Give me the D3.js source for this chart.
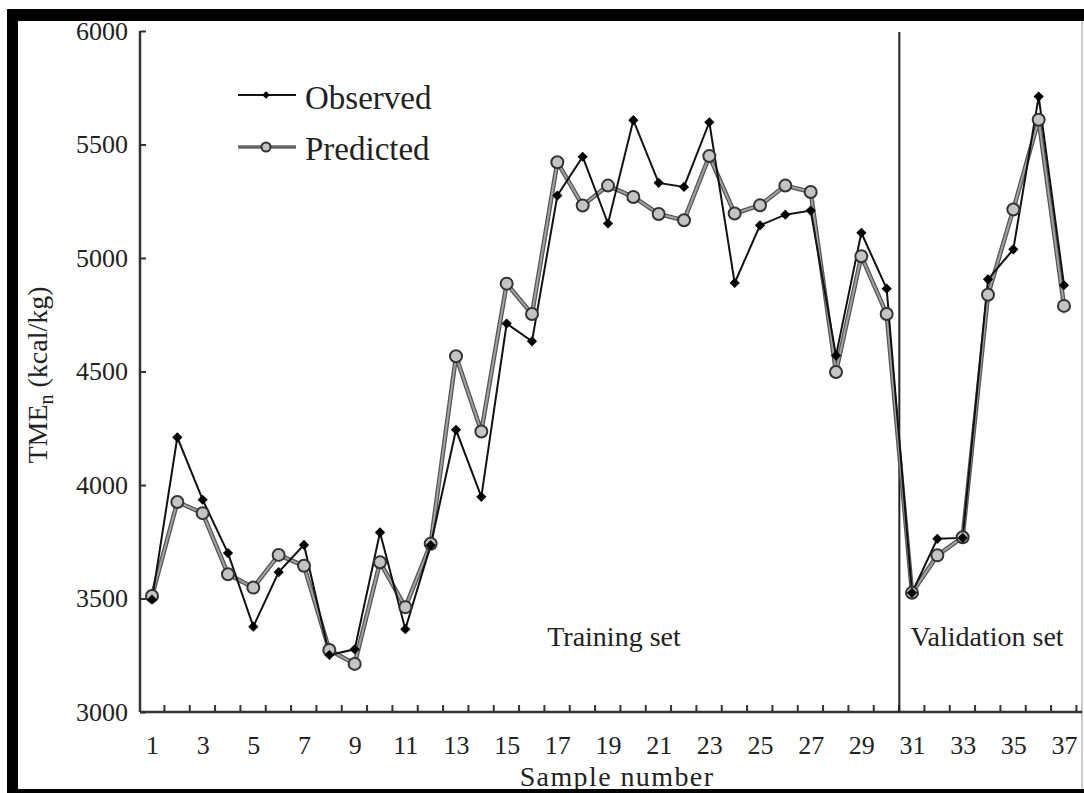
<!DOCTYPE html>
<html lang="en">
<head>
  <meta charset="UTF-8" />
  <title>TMEn observed vs predicted</title>
  <script src="https://d3js.org/d3.v7.min.js" charset="utf-8"></script>
  <style type="text/css">
  body {
    margin: 0;
    background: #fff;
  }
  svg {
    display: block;
    font-family: "Liberation Serif", "Times New Roman", serif;
  }
  .axis text {
    font-family: "Liberation Serif", "Times New Roman", serif;
    font-size: 26px;
    fill: #222;
  }
  .axis path {
    stroke: none;
  }
  .axis line {
    stroke: #333;
    stroke-width: 2;
  }
  </style>
</head>
<body>
<script type="text/javascript">

// values
const samples = [1, 2, 3, 4, 5, 6, 7, 8, 9, 10, 11, 12, 13, 14, 15, 16, 17, 18, 19,
  20, 21, 22, 23, 24, 25, 26, 27, 28, 29, 30, 31, 32, 33, 34, 35, 36, 37];

const observed = [3495, 4210, 3935, 3700, 3376, 3616, 3736, 3251, 3276, 3791, 3365, 3735,
  4243, 3948, 4711, 4633, 5275, 5446, 5152, 5607, 5331, 5313, 5598, 4890,
  5144, 5191, 5209, 4570, 5111, 4865,
  3525, 3763, 3767, 4906, 5038, 5711, 4880];

const predicted = [3511, 3925, 3876, 3607, 3548, 3692, 3644, 3273, 3212, 3660, 3462, 3741,
  4567, 4236, 4887, 4753, 5422, 5231, 5319, 5269, 5194, 5166, 5449, 5196,
  5232, 5319, 5291, 4498, 5008, 4753,
  3525, 3690, 3770, 4838, 5214, 5609, 4789];

const xLabels = [1, 3, 5, 7, 9, 11, 13, 15, 17, 19, 21, 23, 25, 27, 29, 31, 33, 35, 37];
const yTicks = [3000, 3500, 4000, 4500, 5000, 5500, 6000];
const splitAt = 30.5; // training | validation

const W = 1084, H = 793;
const plotLeft = 140, plotRight = 1082, plotBottom = 712, plotTop = 31;

const svg = d3.select("body").append("svg")
    .attr("width", W)
    .attr("height", H);

const x = d3.scaleLinear().domain([1, 37]).range([152, 1064]);
const y = d3.scaleLinear().domain([3000, 6000]).range([plotBottom, plotTop]);

// scanned frame
svg.append("rect").attr("x", 7).attr("y", 9).attr("width", W - 7).attr("height", 12).attr("fill", "#000");
svg.append("rect").attr("x", 7).attr("y", 9).attr("width", 11).attr("height", H - 9).attr("fill", "#000");
svg.append("line").attr("x1", plotRight).attr("x2", plotRight).attr("y1", 21).attr("y2", 789)
    .attr("stroke", "#999").attr("stroke-width", 1);

// axes
svg.append("g")
    .attr("class", "axis y")
    .attr("transform", `translate(${plotLeft},0)`)
    .call(d3.axisLeft(y).tickValues(yTicks).tickSizeInner(-6).tickSizeOuter(0).tickPadding(12)
      .tickFormat(d3.format("d")));

svg.append("g")
    .attr("class", "axis x")
    .attr("transform", `translate(0,${plotBottom})`)
    .call(d3.axisBottom(x).tickValues(xLabels).tickSize(0).tickPadding(24).tickFormat(d3.format("d")));

svg.append("g")
    .attr("class", "axis xticks")
    .attr("transform", `translate(0,${plotBottom})`)
    .call(d3.axisBottom(x).tickValues(samples.map(d => d + 0.47)).tickSizeInner(-7).tickSizeOuter(0).tickFormat(""));

svg.append("line")
    .attr("x1", plotLeft).attr("x2", plotRight)
    .attr("y1", y(3000)).attr("y2", y(3000))
    .attr("stroke", "#333").attr("stroke-width", 2.5);
svg.append("line")
    .attr("x1", plotLeft).attr("x2", plotLeft)
    .attr("y1", y(3000)).attr("y2", y(6000))
    .attr("stroke", "#333").attr("stroke-width", 2.5);

// separator between the sets
svg.append("line")
    .attr("x1", x(splitAt)).attr("x2", x(splitAt))
    .attr("y1", y(3000)).attr("y2", y(6000) + 1)
    .attr("stroke", "#222").attr("stroke-width", 2);

// axis titles
svg.append("text")
    .attr("x", 617).attr("y", 786)
    .attr("text-anchor", "middle")
    .attr("font-size", 28)
    .attr("letter-spacing", 1.4)
    .attr("fill", "#222")
    .text("Sample number");

const yTitle = svg.append("text")
    .attr("transform", "translate(47,375) rotate(-90)")
    .attr("text-anchor", "middle")
    .attr("font-size", 28)
    .attr("fill", "#222");
yTitle.append("tspan").text("TME");
yTitle.append("tspan").attr("font-size", 20).attr("dy", 6).text("n");
yTitle.append("tspan").attr("dy", -6).text(" (kcal/kg)");

// set labels
svg.append("text")
    .attr("x", 614).attr("y", 646)
    .attr("text-anchor", "middle")
    .attr("font-size", 28)
    .attr("fill", "#222")
    .text("Training set");
svg.append("text")
    .attr("x", 987).attr("y", 646)
    .attr("text-anchor", "middle")
    .attr("font-size", 28)
    .attr("fill", "#222")
    .text("Validation set");

// series
const line = d3.line().x((d, i) => x(samples[i])).y(d => y(d));

svg.append("path")
    .datum(predicted)
    .attr("fill", "none")
    .attr("stroke", "#555")
    .attr("stroke-width", 4.5)
    .attr("stroke-linejoin", "round")
    .attr("d", line);
svg.append("path")
    .datum(predicted)
    .attr("fill", "none")
    .attr("stroke", "#a0a0a0")
    .attr("stroke-width", 2)
    .attr("stroke-linejoin", "round")
    .attr("d", line);

svg.append("path")
    .datum(observed)
    .attr("fill", "none")
    .attr("stroke", "#111")
    .attr("stroke-width", 2)
    .attr("d", line);

svg.append("g")
  .selectAll("circle")
  .data(predicted)
  .enter().append("circle")
    .attr("cx", (d, i) => x(samples[i]))
    .attr("cy", d => y(d))
    .attr("r", 6)
    .attr("fill", "#c4c4c4")
    .attr("stroke", "#333")
    .attr("stroke-width", 2);

const diamond = d3.symbol(d3.symbolSquare, 52);
svg.append("g")
  .selectAll("path")
  .data(observed)
  .enter().append("path")
    .attr("transform", (d, i) => `translate(${x(samples[i])},${y(d)}) rotate(45)`)
    .attr("d", diamond)
    .attr("fill", "#000");

// legend
const legend = svg.append("g").attr("font-size", 33).attr("fill", "#222");

legend.append("line").attr("x1", 238).attr("x2", 296).attr("y1", 95).attr("y2", 95)
    .attr("stroke", "#111").attr("stroke-width", 2);
legend.append("path").attr("transform", "translate(266,95) rotate(45)")
    .attr("d", d3.symbol(d3.symbolSquare, 30)).attr("fill", "#000");
legend.append("text").attr("x", 305).attr("y", 109).text("Observed");

legend.append("line").attr("x1", 238).attr("x2", 296).attr("y1", 147).attr("y2", 147)
    .attr("stroke", "#666").attr("stroke-width", 3.5);
legend.append("circle").attr("cx", 266).attr("cy", 147).attr("r", 4.5)
    .attr("fill", "#c4c4c4").attr("stroke", "#333").attr("stroke-width", 2);
legend.append("text").attr("x", 305).attr("y", 160).text("Predicted");

// bottom band of the scan sits over the title's descenders
svg.append("rect").attr("x", 7).attr("y", 789).attr("width", W - 7).attr("height", 4).attr("fill", "#000");

</script>
</body>
</html>
